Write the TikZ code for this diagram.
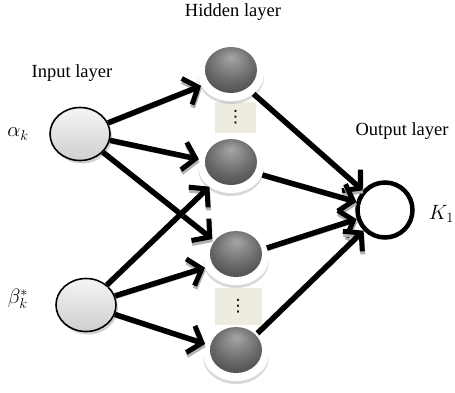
\documentclass[tikz,border=0pt]{standalone}
\usepackage{fontspec}
\setmainfont{Liberation Serif}
\newfontfamily\symfont{DejaVu Sans}
\usetikzlibrary{arrows.meta,shadows,shapes.geometric}
\definecolor{boxgray}{HTML}{EEECE1}
\pgfdeclareradialshading{hidball}{\pgfpoint{0bp}{16bp}}{color(0bp)=(black!35); color(18bp)=(black!60); color(38bp)=(black!82); color(50bp)=(black!92)}
\tikzset{
	lbl/.style={font=\fontsize{18.5}{22}\selectfont, inner sep=0pt},
	mlbl/.style={font=\fontsize{20}{24}\selectfont, inner sep=0pt},
	inp/.style={ellipse, draw, line width=1.6pt, minimum width=60pt, minimum height=53pt,
		top color=gray!8, bottom color=gray!38,
		drop shadow={shadow xshift=2pt, shadow yshift=-3pt, fill=black!35}},
	hid/.style={ellipse, fill=white, minimum width=66pt, minimum height=54pt,
		drop shadow={shadow xshift=0pt, shadow yshift=-3pt, fill=black!30},
		path picture={\fill[shading=hidball] ([yshift=4pt]path picture bounding box.center)
			ellipse [x radius=26pt, y radius=23pt];}},
	outn/.style={circle, draw, line width=4.5pt, fill=white, minimum size=55pt},
	dotbox/.style={fill=boxgray, minimum width=41pt, minimum height=31pt, inner sep=0pt,
		font=\symfont\fontsize{17}{20}\selectfont},
	conn/.style={line width=5.5pt, -{Straight Barb[length=12pt,width=28pt,line width=5pt]},
		preaction={draw=black!30, -{Straight Barb[length=12pt,width=28pt,line width=5pt]},
			transform canvas={xshift=0.5pt,yshift=-3pt}}}
}
\begin{document}
\begin{tikzpicture}[x=1pt,y=-1pt]
	\useasboundingbox (0,0) rectangle (455,392);
	% labels
	\node[lbl] (hidlab) at (233,12) {Hidden layer};
	\node[lbl] (inlab) at (72,73) {Input layer};
	\node[lbl] (outlab) at (402,131) {Output layer};
	\node[mlbl] (alab) at (18,134) {$\alpha_k$};
	\node[mlbl] (blab) at (18,299) {$\beta_k^*$};
	\node[mlbl, anchor=east] (klab) at (454,214) {$K_1$};
	% input layer
	\node[inp] (alpha) at (80,134) {};
	\node[inp] (beta) at (86,305) {};
	% hidden layer
	\node[dotbox] (dots1) at (235.5,117.5) {⋮};
	\node[dotbox, minimum width=47pt, minimum height=37pt] (dots2) at (238,306) {⋮};
	\node[hid] (h1) at (231,74) {};
	\node[hid] (h2) at (231,166) {};
	\node[hid] (h3) at (236,258) {};
	\node[hid] (h4) at (236,354) {};
	% output layer
	\node[outn] (out) at (385,210) {};
	\draw[conn] (alpha) -- (h1);
	\draw[conn] (alpha) -- (h2);
	\draw[conn] (alpha) -- (h3);
	\draw[conn] (beta) -- (h2);
	\draw[conn] (beta) -- (h3);
	\draw[conn] (beta) -- (h4);
	\foreach \h in {h1,h2,h3,h4}
		\draw[conn] (\h) -- (out);
\end{tikzpicture}
\end{document}
